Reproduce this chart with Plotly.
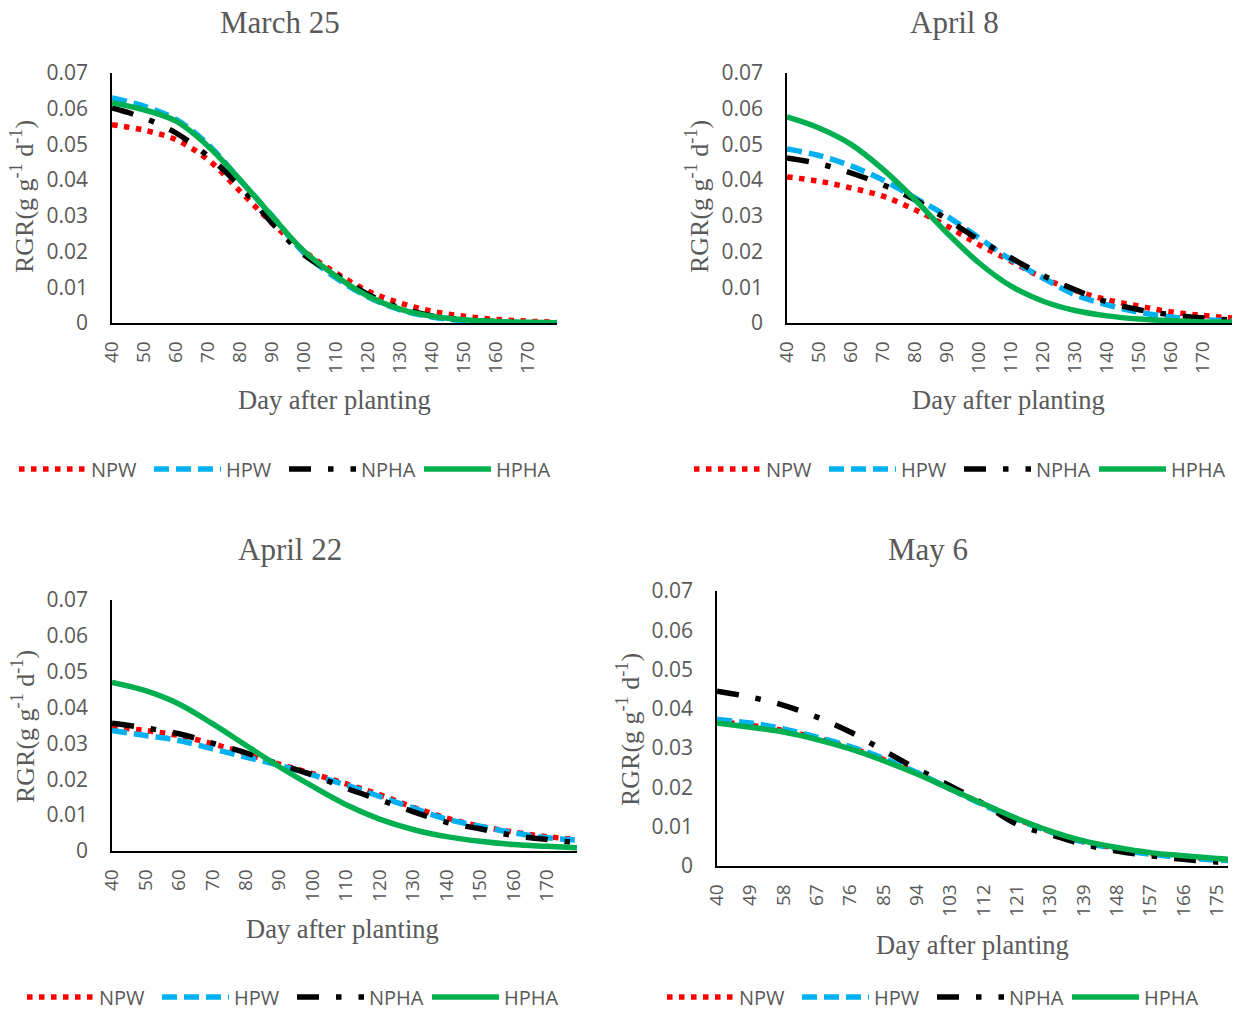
import plotly.graph_objects as go

# ---------------- data ----------------
series_names = ["NPW", "HPW", "NPHA", "HPHA"]
panel_titles = ["March 25", "April 8", "April 22", "May 6"]

days_a = [40, 50, 60, 70, 80, 90, 100, 110, 120, 130, 140, 150, 160, 170, 179]
days_b = [40, 49, 58, 67, 76, 85, 94, 103, 112, 121, 130, 139, 148, 157, 166, 175, 178]

tick_a = [40, 50, 60, 70, 80, 90, 100, 110, 120, 130, 140, 150, 160, 170]
tick_b = [40, 49, 58, 67, 76, 85, 94, 103, 112, 121, 130, 139, 148, 157, 166, 175]
y_ticks = [0, 0.01, 0.02, 0.03, 0.04, 0.05, 0.06, 0.07]

# March 25
mar25_npw = [0.0555, 0.0540, 0.0513, 0.0457, 0.0369, 0.0280, 0.0201, 0.0140, 0.0089, 0.0056, 0.0033, 0.0019, 0.0010, 0.0005, 0.0002]
mar25_hpw = [0.0630, 0.0607, 0.0570, 0.0500, 0.0400, 0.0300, 0.0196, 0.0126, 0.0073, 0.0037, 0.0017, 0.0007, 0.0003, 0.0001, 0.0001]
mar25_npha = [0.0602, 0.0574, 0.0532, 0.0467, 0.0383, 0.0280, 0.0191, 0.0135, 0.0080, 0.0042, 0.0020, 0.0009, 0.0004, 0.0001, 0.0001]
mar25_hpha = [0.0616, 0.0597, 0.0565, 0.0495, 0.0401, 0.0299, 0.0201, 0.0131, 0.0075, 0.0039, 0.0019, 0.0009, 0.0004, 0.0002, 0.0001]

# April 8
apr8_npw = [0.0409, 0.0397, 0.0378, 0.0355, 0.0317, 0.0271, 0.0219, 0.0173, 0.0126, 0.0091, 0.0065, 0.0047, 0.0031, 0.0021, 0.0014]
apr8_hpw = [0.0487, 0.0469, 0.0440, 0.0400, 0.0350, 0.0299, 0.0238, 0.0177, 0.0126, 0.0079, 0.0051, 0.0030, 0.0017, 0.0009, 0.0006]
apr8_npha = [0.0462, 0.0446, 0.0420, 0.0387, 0.0345, 0.0290, 0.0233, 0.0182, 0.0133, 0.0093, 0.0059, 0.0037, 0.0023, 0.0014, 0.0008]
apr8_hpha = [0.0577, 0.0546, 0.0500, 0.0430, 0.0345, 0.0252, 0.0168, 0.0103, 0.0061, 0.0035, 0.0020, 0.0011, 0.0006, 0.0003, 0.0002]

# April 22
apr22_npw = [0.0345, 0.0336, 0.0322, 0.0299, 0.0272, 0.0242, 0.0216, 0.0187, 0.0157, 0.0122, 0.0092, 0.0069, 0.0053, 0.0040, 0.0032]
apr22_hpw = [0.0336, 0.0322, 0.0308, 0.0285, 0.0262, 0.0239, 0.0212, 0.0184, 0.0152, 0.0120, 0.0089, 0.0069, 0.0051, 0.0037, 0.0030]
apr22_npha = [0.0356, 0.0343, 0.0327, 0.0301, 0.0274, 0.0242, 0.0212, 0.0175, 0.0143, 0.0110, 0.0080, 0.0062, 0.0043, 0.0032, 0.0023]
apr22_hpha = [0.0470, 0.0447, 0.0410, 0.0355, 0.0295, 0.0235, 0.0180, 0.0129, 0.0089, 0.0060, 0.0040, 0.0027, 0.0018, 0.0013, 0.0009]

# May 6
may6_npw = [0.0368, 0.0358, 0.0345, 0.0325, 0.0301, 0.0271, 0.0236, 0.0196, 0.0157, 0.0120, 0.0088, 0.0062, 0.0045, 0.0032, 0.0023, 0.0017, 0.0015]
may6_hpw = [0.0373, 0.0364, 0.0349, 0.0328, 0.0304, 0.0274, 0.0238, 0.0196, 0.0155, 0.0119, 0.0087, 0.0061, 0.0043, 0.0030, 0.0021, 0.0015, 0.0014]
may6_npha = [0.0445, 0.0430, 0.0409, 0.0379, 0.0341, 0.0294, 0.0247, 0.0204, 0.0158, 0.0106, 0.0080, 0.0055, 0.0038, 0.0026, 0.0017, 0.0010, 0.0009]
may6_hpha = [0.0364, 0.0353, 0.0341, 0.0322, 0.0298, 0.0268, 0.0234, 0.0196, 0.0158, 0.0121, 0.0089, 0.0064, 0.0047, 0.0034, 0.0026, 0.0019, 0.0017]

panels = [
    (days_a, tick_a, [mar25_npw, mar25_hpw, mar25_npha, mar25_hpha]),
    (days_a, tick_a, [apr8_npw, apr8_hpw, apr8_npha, apr8_hpha]),
    (days_a, tick_a, [apr22_npw, apr22_hpw, apr22_npha, apr22_hpha]),
    (days_b, tick_b, [may6_npw, may6_hpw, may6_npha, may6_hpha]),
]

# ---------------- styles ----------------
W, H = 1236, 1010
colors = ["#FF0000", "#00B0F0", "#000000", "#00B050"]
dashes = ["5.5px,6.5px", "15px,7px", "22px,17px,5.5px,17px", "solid"]
widths = [5.5, 5.5, 5.5, 5.5]
gray = "#595959"
sans = "Open Sans"
serif = "Liberation Serif"

# pixel boxes of the plot areas: (left, right, top, bottom)
boxes = [
    (112, 557, 73, 323),
    (787, 1232, 73, 323),
    (112, 577, 600, 851),
    (717, 1228, 591, 866),
]
title_pos = [(280, 22), (954, 22), (290, 549), (928, 549)]
ytitle_pos = [(23, 197), (698, 197), (23, 727), (628, 730)]
xtitle_pos = [(334, 400), (1008, 400), (342, 929), (973, 945)]
legend_pos = [(284, 469), (959, 469), (292, 997), (932, 997)]


def px_x(v):
    return v / W


def px_y(v):
    return 1 - v / H


fig = go.Figure()
layout = dict(
    width=W, height=H,
    margin=dict(l=0, r=0, t=0, b=0, pad=0, autoexpand=False),
    paper_bgcolor="white", plot_bgcolor="white",
    showlegend=True,
    annotations=[],
)

for i, (xs, ticks, ys_list) in enumerate(panels):
    k = "" if i == 0 else str(i + 1)
    leg = "legend" + k
    for j, ys in enumerate(ys_list):
        fig.add_trace(go.Scatter(
            x=xs, y=ys, mode="lines", name=series_names[j],
            line=dict(color=colors[j], width=widths[j], dash=dashes[j], shape="spline", smoothing=1.0),
            xaxis="x" + k, yaxis="y" + k, legend=leg,
        ))
    l, r, t, b = boxes[i]
    layout["xaxis" + k] = dict(
        domain=[px_x(l), px_x(r)], anchor="y" + k, automargin=False,
        range=[xs[0], xs[-1]], tickmode="array", tickvals=ticks,
        ticktext=[str(v) for v in ticks],
        tickangle=-90, showgrid=False, zeroline=False,
        showline=True, linecolor="black", linewidth=1.5,
        ticks="outside", ticklen=9, tickcolor="rgba(0,0,0,0)",
        tickfont=dict(family=sans, size=19, color=gray),
    )
    layout["yaxis" + k] = dict(
        domain=[px_y(b), px_y(t)], anchor="x" + k, automargin=False,
        range=[0, 0.07], tickmode="array", tickvals=y_ticks,
        ticktext=["0" if v == 0 else f"{v:.2f}" for v in y_ticks],
        showgrid=False, zeroline=False,
        showline=True, linecolor="black", linewidth=1.5,
        ticks="outside", ticklen=18, tickcolor="rgba(0,0,0,0)",
        tickfont=dict(family=sans, size=21, color=gray),
    )
    lx, ly = legend_pos[i]
    layout[leg] = dict(
        orientation="h", x=px_x(lx), y=px_y(ly), xanchor="center", yanchor="middle",
        font=dict(family=sans, size=20, color=gray), bgcolor="rgba(0,0,0,0)",
        itemwidth=67, entrywidth=53, entrywidthmode="pixels", tracegroupgap=0,
    )
    tx, ty = title_pos[i]
    layout["annotations"].append(dict(
        text=panel_titles[i], x=px_x(tx), y=px_y(ty), xref="paper", yref="paper",
        xanchor="center", yanchor="middle", showarrow=False,
        font=dict(family=serif, size=31, color=gray),
    ))
    yx, yy = ytitle_pos[i]
    layout["annotations"].append(dict(
        text="RGR(g g<sup>-1</sup> d<sup>-1</sup>)", x=px_x(yx), y=px_y(yy),
        xref="paper", yref="paper", xanchor="center", yanchor="middle",
        textangle=-90, showarrow=False,
        font=dict(family=serif, size=26, color=gray),
    ))
    xx, xy = xtitle_pos[i]
    layout["annotations"].append(dict(
        text="Day after planting", x=px_x(xx), y=px_y(xy),
        xref="paper", yref="paper", xanchor="center", yanchor="middle",
        showarrow=False, font=dict(family=serif, size=26.5, color=gray),
    ))

fig.update_layout(**layout)
fig.write_html("out.html")
